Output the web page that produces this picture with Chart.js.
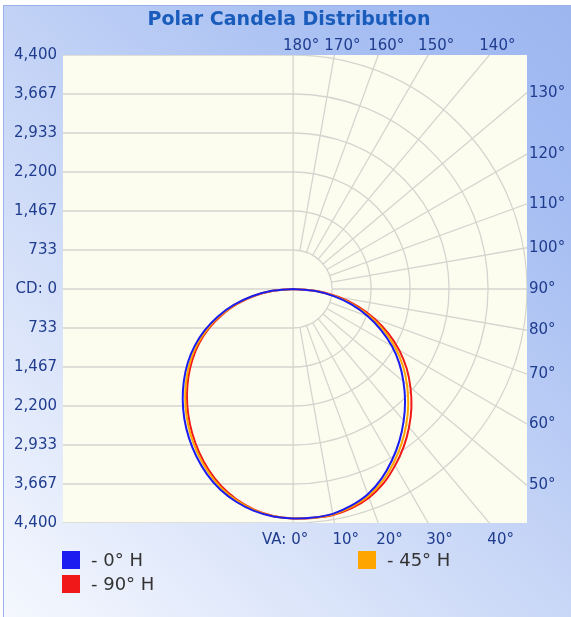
<!DOCTYPE html>
<html>
<head>
<meta charset="utf-8">
<script src="https://cdn.jsdelivr.net/npm/chart.js@4.4.1/dist/chart.umd.min.js"></script>
<style>
  html, body { margin: 0; padding: 0; background: #ffffff; }
  #wrap { position: relative; width: 571px; height: 617px; }
</style>
</head>
<body>
<div id="wrap"><canvas id="chart"></canvas></div>
<script>
// ---------------- data ----------------
const TITLE = 'Polar Candela Distribution';
const ANGLES = [0, 5, 10, 15, 20, 25, 30, 35, 40, 45, 50, 55, 60, 65, 70, 75, 80, 85, 90];

const H0_RIGHT  = [4315, 4315, 4294, 4219, 4108, 3935, 3719, 3486, 3235, 2978, 2709, 2438, 2145, 1825, 1489, 1143, 776, 397, 0];
const H0_LEFT   = [4315, 4294, 4237, 4142, 4012, 3841, 3638, 3418, 3185, 2938, 2683, 2420, 2139, 1833, 1506, 1156, 786, 400, 0];
const H45_RIGHT = [4315, 4318, 4305, 4241, 4142, 3982, 3777, 3555, 3314, 3063, 2796, 2523, 2226, 1901, 1557, 1201, 823, 425, 0];
const H45_LEFT  = [4315, 4288, 4222, 4115, 3974, 3792, 3581, 3356, 3119, 2873, 2619, 2359, 2083, 1782, 1461, 1119, 758, 385, 0];
const H90_RIGHT = [4315, 4322, 4316, 4264, 4175, 4029, 3835, 3625, 3393, 3147, 2882, 2608, 2307, 1976, 1624, 1260, 870, 453, 0];
const H90_LEFT  = [4315, 4285, 4211, 4097, 3946, 3756, 3540, 3311, 3072, 2826, 2572, 2314, 2042, 1745, 1427, 1090, 737, 374, 0];

const SERIES_LABELS = ['- 0° H', '- 45° H', '- 90° H'];

const CD_MAX = 4400;
const X_MIN = -4330;
const CD_TICKS = [-4400, -3666.67, -2933.33, -2200, -1466.67, -733.33, 0, 733.33, 1466.67, 2200, 2933.33, 3666.67, 4400];
const RING_VALUES = [733.33, 1466.67, 2200, 2933.33, 3666.67, 4400];
const SPOKE_ANGLES = [10, 20, 30, 40, 50, 60, 70, 80, 90, 100, 110, 120, 130, 140, 150, 160, 170];
const TOP_ANGLE_LABELS = [180, 170, 160, 150, 140];
const RIGHT_ANGLE_LABELS = [130, 120, 110, 100, 90, 80, 70, 60, 50];
const BOTTOM_ANGLE_LABELS = [0, 10, 20, 30, 40];
const BOTTOM_PREFIX = 'VA: ';
const ZERO_LABEL = 'CD: 0';

// ---------------- styles ----------------
const FONT = "'DejaVu Sans', Verdana, sans-serif";
const AXIS_COLOR = '#1f3c8e';
const TITLE_COLOR = '#1a5cbc';
const GRID_COLOR = '#d5d5d0';
const COLORS = ['#1c1cf0', '#ffa500', '#f01818'];

// polar (theta measured from nadir) -> cartesian data coords
function toXY(value, deg, side) {
  const r = deg * Math.PI / 180;
  return { x: side * value * Math.sin(r), y: -value * Math.cos(r) };
}
function seriesPoints(leftVals, rightVals) {
  const left = [];
  for (let i = ANGLES.length - 1; i >= 0; i--) left.push(toXY(leftVals[i], ANGLES[i], -1));
  const right = [];
  for (let i = 1; i < ANGLES.length; i++) right.push(toXY(rightVals[i], ANGLES[i], 1));
  return left.concat(right);
}

const SERIES = [
  [H0_LEFT, H0_RIGHT],
  [H45_LEFT, H45_RIGHT],
  [H90_LEFT, H90_RIGHT]
];

const decor = {
  id: 'polarDecor',
  beforeDraw(chart) {
    const { ctx, width, height, chartArea: ca } = chart;
    ctx.save();
    ctx.fillStyle = '#ffffff';
    ctx.fillRect(0, 0, width, height);
    const g = ctx.createLinearGradient(0, height, width, 0);
    g.addColorStop(0, '#f5f8fe');
    g.addColorStop(0.45, '#cad8f7');
    g.addColorStop(0.8, '#a6bef2');
    g.addColorStop(1, '#9db6f0');
    ctx.fillStyle = g;
    ctx.fillRect(3, 5, width - 3, height - 5);
    ctx.strokeStyle = '#9cb3ea';
    ctx.lineWidth = 1;
    ctx.strokeRect(3.5, 5.5, width, height);
    ctx.fillStyle = '#fdfdef';
    ctx.fillRect(ca.left, ca.top, ca.right - ca.left, ca.bottom - ca.top);
    ctx.restore();
  },
  beforeDatasetsDraw(chart) {
    const { ctx, chartArea: ca } = chart;
    const xs = chart.scales.x, ys = chart.scales.y;
    const cx = xs.getPixelForValue(0), cy = ys.getPixelForValue(0);
    const line = (x1, y1, x2, y2) => { ctx.beginPath(); ctx.moveTo(x1, y1); ctx.lineTo(x2, y2); ctx.stroke(); };
    ctx.save();
    ctx.beginPath();
    ctx.rect(ca.left, ca.top, ca.right - ca.left, ca.bottom - ca.top);
    ctx.clip();
    ctx.strokeStyle = GRID_COLOR;
    ctx.lineWidth = 1.3;
    ys.ticks.forEach(t => {
      const py = ys.getPixelForValue(t.value);
      line(ca.left, py, cx, py);
    });
    line(cx, ca.top, cx, ca.bottom);
    RING_VALUES.forEach(r => {
      const rx = xs.getPixelForValue(r) - cx;
      const ry = cy - ys.getPixelForValue(r);
      ctx.beginPath();
      ctx.ellipse(cx, cy, rx, ry, 0, -Math.PI / 2, Math.PI / 2);
      ctx.stroke();
    });
    SPOKE_ANGLES.forEach(a => {
      const p0 = toXY(RING_VALUES[0], a, 1);
      const p1 = toXY(CD_MAX * 2, a, 1);
      line(xs.getPixelForValue(p0.x), ys.getPixelForValue(p0.y), xs.getPixelForValue(p1.x), ys.getPixelForValue(p1.y));
    });
    ctx.restore();
  },
  afterDraw(chart) {
    const { ctx, chartArea: ca } = chart;
    const xs = chart.scales.x, ys = chart.scales.y;
    ctx.save();
    ctx.font = '15px ' + FONT;
    ctx.fillStyle = AXIS_COLOR;
    ctx.textBaseline = 'middle';
    TOP_ANGLE_LABELS.forEach(a => {
      const r = a * Math.PI / 180;
      const t = ys.max / (-Math.cos(r));
      const px = xs.getPixelForValue(t * Math.sin(r));
      ctx.textAlign = 'center';
      ctx.fillText(a + '°', px + 8, ca.top - 9);
    });
    RIGHT_ANGLE_LABELS.forEach(a => {
      const r = a * Math.PI / 180;
      const t = xs.max / Math.sin(r);
      const py = ys.getPixelForValue(-t * Math.cos(r));
      ctx.textAlign = 'left';
      ctx.fillText(a + '°', ca.right + 2, py);
    });
    BOTTOM_ANGLE_LABELS.forEach(a => {
      const r = a * Math.PI / 180;
      const t = -ys.min / Math.cos(r);
      const px = xs.getPixelForValue(t * Math.sin(r));
      ctx.textAlign = 'left';
      ctx.fillText(a + '°', px - 2, ca.bottom + 17);
      if (a === 0) {
        ctx.textAlign = 'right';
        ctx.fillText(BOTTOM_PREFIX, px - 2, ca.bottom + 17);
      }
    });
    ctx.font = '18px ' + FONT;
    chart.data.datasets.forEach((ds, i) => {
      const col = i % 2, row = Math.floor(i / 2);
      const x = ca.left - 1 + col * 296;
      const y = ca.bottom + 37 + row * 24;
      ctx.fillStyle = ds.borderColor;
      ctx.fillRect(x, y - 9, 18, 18);
      ctx.fillStyle = '#333333';
      ctx.textAlign = 'left';
      ctx.fillText(ds.label, x + 29, y + 1);
    });
    ctx.restore();
  }
};

new Chart(document.getElementById('chart'), {
  type: 'scatter',
  data: {
    datasets: SERIES.map((s, i) => ({
      label: SERIES_LABELS[i],
      data: seriesPoints(s[0], s[1]),
      showLine: true,
      borderColor: COLORS[i],
      backgroundColor: COLORS[i],
      borderWidth: 2,
      pointRadius: 0,
      tension: 0.3,
      fill: false
    }))
  },
  options: {
    responsive: true,
    maintainAspectRatio: false,
    animation: false,
    layout: { padding: { left: 7, right: 0, top: 0, bottom: 94 } },
    plugins: {
      legend: { display: false },
      tooltip: { enabled: false },
      title: {
        display: true,
        text: TITLE,
        color: TITLE_COLOR,
        font: { family: FONT, size: 19, weight: 'bold' },
        padding: { top: 9, bottom: 23.2 }
      }
    },
    scales: {
      x: { type: 'linear', min: X_MIN, max: CD_MAX, display: false },
      y: {
        type: 'linear', position: 'left', min: -CD_MAX, max: CD_MAX,
        afterFit: s => { s.width = 56; },
        afterBuildTicks: s => { s.ticks = CD_TICKS.map(v => ({ value: v })); },
        grid: { display: false, drawTicks: false },
        border: { display: false },
        ticks: {
          padding: 6, color: AXIS_COLOR, autoSkip: false,
          font: { family: FONT, size: 15 },
          callback: v => Math.abs(v) < 1e-6 ? ZERO_LABEL : Math.round(Math.abs(v)).toLocaleString('en-US')
        }
      },
      y2: {
        type: 'linear', position: 'right', min: -CD_MAX, max: CD_MAX,
        afterFit: s => { s.width = 44; },
        grid: { display: false, drawTicks: false },
        border: { display: false },
        ticks: { display: false }
      }
    }
  },
  plugins: [decor]
});
</script>
</body>
</html>
